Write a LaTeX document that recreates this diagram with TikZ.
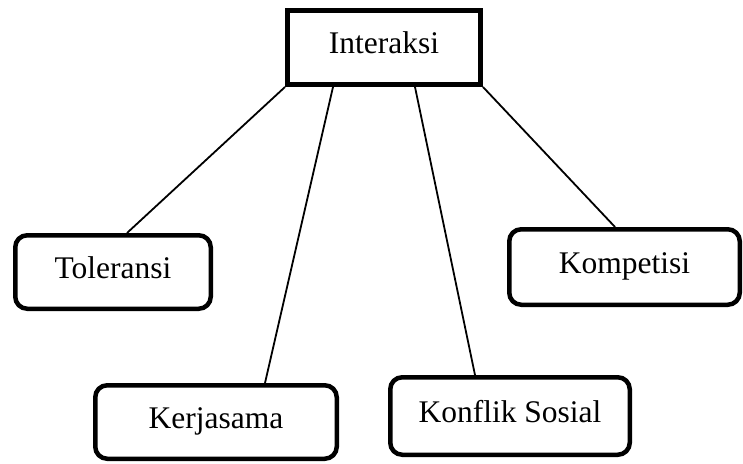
\documentclass[tikz,border=0pt]{standalone}
\usepackage{fontspec}
\setmainfont{Liberation Serif}
\begin{document}
\begin{tikzpicture}[x=1pt,y=-1pt,
  every node/.style={font=\fontsize{31.5}{38}\selectfont, inner sep=0pt,
    text height=21pt, text depth=9pt},
  topbox/.style={draw, line width=5pt, rectangle, minimum width=193pt, minimum height=74pt},
  leafbox/.style={draw, line width=4.5pt, rectangle, rounded corners=12pt},
  link/.style={line width=1.8pt}]
\useasboundingbox (0,0) rectangle (743,463);
\node[topbox] (inter) at (384,47.5) {Interaksi};
\node[leafbox, minimum width=195.5pt, minimum height=73.5pt] (tol) at (113,272) {Toleransi};
\node[leafbox, minimum width=241.5pt, minimum height=73.5pt] (ker) at (216,422) {Kerjasama};
\node[leafbox, minimum width=239.5pt, minimum height=77.5pt] (kon) at (510,416) {Konflik Sosial};
\node[leafbox, minimum width=230.5pt, minimum height=75.5pt] (kom) at (624.5,267) {Kompetisi};
\draw[link] (inter.south west) -- ([xshift=14pt]tol.north);
\draw[link] ([xshift=48pt]inter.south west) -- ([xshift=49pt]ker.north);
\draw[link] ([xshift=-68pt]inter.south east) -- ([xshift=-35pt]kon.north);
\draw[link] (inter.south east) -- ([xshift=-9.5pt]kom.north);
\end{tikzpicture}
\end{document}
